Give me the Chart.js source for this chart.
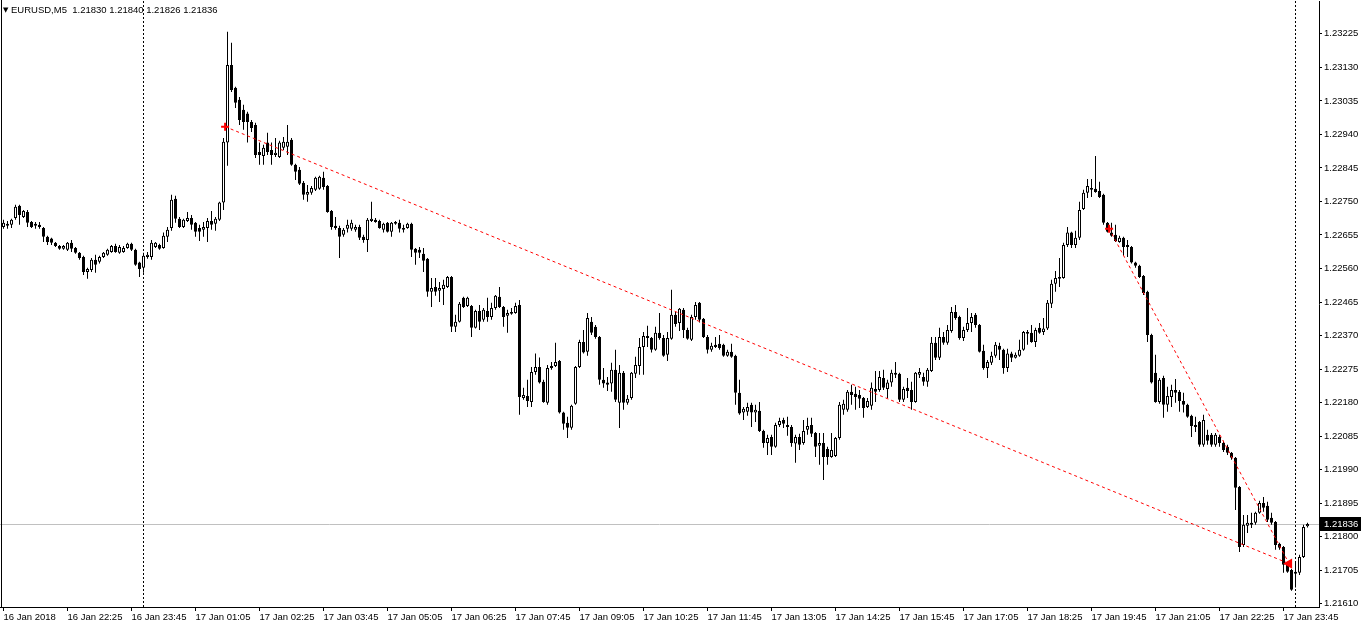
<!DOCTYPE html>
<html>
<head>
<meta charset="utf-8">
<title>EURUSD,M5</title>
<script src="https://cdn.jsdelivr.net/npm/chart.js@4.4.1/dist/chart.umd.min.js"></script>
<style>
  html, body { margin: 0; padding: 0; background: #fff; overflow: hidden; }
  canvas { display: block; }
</style>
</head>
<body>
<canvas id="chart" width="1362" height="629"></canvas>
<script>
// EURUSD M5 bars, 16 Jan 21:05 .. 18 Jan 00:15 (one entry per bar)
const symbol = 'EURUSD,M5';

const open = [
  1.22678, 1.22687, 1.22684, 1.22703, 1.22738, 1.22706, 1.22720, 1.22692, 1.22687, 1.22684,
  1.22675, 1.22650, 1.22645, 1.22633, 1.22624, 1.22616, 1.22613, 1.22633, 1.22618, 1.22605,
  1.22593, 1.22550, 1.22556, 1.22585, 1.22579, 1.22593, 1.22599, 1.22607, 1.22624, 1.22605,
  1.22607, 1.22618, 1.22630, 1.22613, 1.22577, 1.22562, 1.22593, 1.22593, 1.22621, 1.22627,
  1.22618, 1.22650, 1.22675, 1.22758, 1.22701, 1.22678, 1.22695, 1.22703, 1.22690, 1.22675,
  1.22670, 1.22675, 1.22695, 1.22687, 1.22698, 1.22747, 1.22917, 1.23137, 1.23072, 1.23038,
  1.23010, 1.22999, 1.22975, 1.22967, 1.22890, 1.22879, 1.22917, 1.22896, 1.22882, 1.22876,
  1.22902, 1.22905, 1.22925, 1.22854, 1.22840, 1.22803, 1.22769, 1.22775, 1.22783, 1.22786,
  1.22817, 1.22794, 1.22723, 1.22681, 1.22675, 1.22656, 1.22673, 1.22673, 1.22670, 1.22678,
  1.22650, 1.22641, 1.22695, 1.22698, 1.22695, 1.22670, 1.22690, 1.22664, 1.22687, 1.22690,
  1.22670, 1.22675, 1.22687, 1.22616, 1.22613, 1.22602, 1.22588, 1.22494, 1.22508, 1.22497,
  1.22502, 1.22508, 1.22536, 1.22395, 1.22409, 1.22477, 1.22454, 1.22454, 1.22392, 1.22440,
  1.22415, 1.22440, 1.22423, 1.22448, 1.22480, 1.22451, 1.22426, 1.22437, 1.22434, 1.22457,
  1.22193, 1.22199, 1.22182, 1.22267, 1.22281, 1.22239, 1.22180, 1.22278, 1.22284, 1.22298,
  1.22152, 1.22123, 1.22109, 1.22177, 1.22281, 1.22352, 1.22324, 1.22409, 1.22395, 1.22366,
  1.22245, 1.22237, 1.22234, 1.22273, 1.22180, 1.22265, 1.22180, 1.22193, 1.22262, 1.22284,
  1.22338, 1.22369, 1.22363, 1.22330, 1.22378, 1.22363, 1.22316, 1.22361, 1.22429, 1.22406,
  1.22443, 1.22386, 1.22358, 1.22423, 1.22463, 1.22418, 1.22366, 1.22330, 1.22344, 1.22347,
  1.22344, 1.22313, 1.22324, 1.22313, 1.22208, 1.22152, 1.22154, 1.22174, 1.22152, 1.22157,
  1.22100, 1.22066, 1.22083, 1.22055, 1.22117, 1.22131, 1.22111, 1.22111, 1.22064, 1.22083,
  1.22066, 1.22103, 1.22117, 1.22094, 1.22058, 1.22066, 1.22049, 1.22026, 1.22029, 1.22080,
  1.22160, 1.22160, 1.22211, 1.22205, 1.22202, 1.22193, 1.22168, 1.22171, 1.22219, 1.22216,
  1.22250, 1.22219, 1.22237, 1.22259, 1.22262, 1.22188, 1.22222, 1.22216, 1.22182, 1.22259,
  1.22253, 1.22239, 1.22270, 1.22350, 1.22307, 1.22366, 1.22350, 1.22383, 1.22437, 1.22423,
  1.22363, 1.22386, 1.22406, 1.22429, 1.22400, 1.22327, 1.22278, 1.22293, 1.22313, 1.22341,
  1.22330, 1.22278, 1.22319, 1.22307, 1.22313, 1.22330, 1.22380, 1.22378, 1.22352, 1.22392,
  1.22380, 1.22390, 1.22460, 1.22517, 1.22536, 1.22533, 1.22627, 1.22662, 1.22627, 1.22647,
  1.22729, 1.22775, 1.22783, 1.22786, 1.22780, 1.22769, 1.22690, 1.22662, 1.22656, 1.22635,
  1.22647, 1.22621, 1.22621, 1.22577, 1.22568, 1.22539, 1.22494, 1.22372, 1.22265, 1.22182,
  1.22250, 1.22174, 1.22196, 1.22216, 1.22211, 1.22185, 1.22174, 1.22143, 1.22111, 1.22125,
  1.22061, 1.22089, 1.22089, 1.22061, 1.22083, 1.22066, 1.22055, 1.22038, 1.22024, 1.21941,
  1.21777, 1.21831, 1.21834, 1.21840, 1.21868, 1.21896, 1.21888, 1.21854, 1.21842, 1.21780,
  1.21771, 1.21721, 1.21706, 1.21701, 1.21698, 1.21743, 1.21830
];

const high = [
  1.22698, 1.22695, 1.22701, 1.22741, 1.22741, 1.22726, 1.22726, 1.22695, 1.22692, 1.22692,
  1.22678, 1.22653, 1.22647, 1.22635, 1.22627, 1.22627, 1.22635, 1.22641, 1.22621, 1.22607,
  1.22596, 1.22562, 1.22590, 1.22599, 1.22596, 1.22607, 1.22616, 1.22627, 1.22630, 1.22627,
  1.22624, 1.22633, 1.22633, 1.22616, 1.22579, 1.22605, 1.22607, 1.22641, 1.22635, 1.22630,
  1.22662, 1.22678, 1.22769, 1.22766, 1.22706, 1.22701, 1.22720, 1.22712, 1.22692, 1.22684,
  1.22692, 1.22703, 1.22723, 1.22706, 1.22749, 1.22930, 1.23231, 1.23200, 1.23075, 1.23046,
  1.23024, 1.23004, 1.22981, 1.22973, 1.22917, 1.22911, 1.22945, 1.22917, 1.22930, 1.22922,
  1.22933, 1.22967, 1.22930, 1.22857, 1.22848, 1.22808, 1.22797, 1.22794, 1.22820, 1.22823,
  1.22834, 1.22797, 1.22726, 1.22706, 1.22681, 1.22675, 1.22698, 1.22698, 1.22684, 1.22684,
  1.22656, 1.22703, 1.22749, 1.22703, 1.22698, 1.22690, 1.22692, 1.22692, 1.22695, 1.22698,
  1.22684, 1.22690, 1.22690, 1.22618, 1.22621, 1.22618, 1.22590, 1.22533, 1.22533, 1.22522,
  1.22528, 1.22539, 1.22539, 1.22429, 1.22465, 1.22480, 1.22480, 1.22457, 1.22443, 1.22457,
  1.22448, 1.22477, 1.22463, 1.22485, 1.22508, 1.22454, 1.22443, 1.22448, 1.22463, 1.22471,
  1.22222, 1.22245, 1.22281, 1.22319, 1.22308, 1.22245, 1.22287, 1.22295, 1.22350, 1.22301,
  1.22154, 1.22140, 1.22174, 1.22284, 1.22358, 1.22386, 1.22434, 1.22423, 1.22400, 1.22369,
  1.22278, 1.22253, 1.22293, 1.22330, 1.22287, 1.22270, 1.22202, 1.22267, 1.22310, 1.22363,
  1.22380, 1.22398, 1.22366, 1.22395, 1.22434, 1.22372, 1.22380, 1.22500, 1.22437, 1.22448,
  1.22448, 1.22392, 1.22429, 1.22465, 1.22465, 1.22420, 1.22372, 1.22350, 1.22366, 1.22372,
  1.22347, 1.22330, 1.22347, 1.22316, 1.22245, 1.22168, 1.22180, 1.22180, 1.22174, 1.22182,
  1.22103, 1.22089, 1.22089, 1.22123, 1.22137, 1.22137, 1.22140, 1.22117, 1.22089, 1.22092,
  1.22131, 1.22137, 1.22137, 1.22097, 1.22094, 1.22094, 1.22055, 1.22094, 1.22083, 1.22182,
  1.22188, 1.22216, 1.22231, 1.22225, 1.22216, 1.22196, 1.22193, 1.22237, 1.22270, 1.22270,
  1.22273, 1.22245, 1.22273, 1.22295, 1.22265, 1.22225, 1.22250, 1.22239, 1.22267, 1.22278,
  1.22265, 1.22278, 1.22366, 1.22366, 1.22392, 1.22380, 1.22400, 1.22451, 1.22457, 1.22426,
  1.22395, 1.22448, 1.22434, 1.22434, 1.22403, 1.22344, 1.22301, 1.22324, 1.22352, 1.22350,
  1.22333, 1.22333, 1.22324, 1.22322, 1.22358, 1.22383, 1.22386, 1.22400, 1.22392, 1.22406,
  1.22420, 1.22471, 1.22528, 1.22553, 1.22590, 1.22633, 1.22678, 1.22664, 1.22667, 1.22749,
  1.22783, 1.22814, 1.22814, 1.22879, 1.22806, 1.22772, 1.22692, 1.22690, 1.22684, 1.22653,
  1.22650, 1.22641, 1.22624, 1.22579, 1.22571, 1.22542, 1.22497, 1.22375, 1.22316, 1.22250,
  1.22256, 1.22225, 1.22231, 1.22247, 1.22216, 1.22208, 1.22177, 1.22146, 1.22140, 1.22128,
  1.22146, 1.22103, 1.22094, 1.22094, 1.22089, 1.22072, 1.22061, 1.22040, 1.22026, 1.21944,
  1.21862, 1.21862, 1.21868, 1.21871, 1.21902, 1.21913, 1.21899, 1.21868, 1.21845, 1.21783,
  1.21774, 1.21726, 1.21709, 1.21729, 1.21749, 1.21834, 1.21840
];

const low = [
  1.22673, 1.22673, 1.22675, 1.22698, 1.22684, 1.22703, 1.22678, 1.22675, 1.22673, 1.22673,
  1.22635, 1.22627, 1.22627, 1.22621, 1.22613, 1.22613, 1.22610, 1.22607, 1.22602, 1.22585,
  1.22542, 1.22531, 1.22550, 1.22548, 1.22574, 1.22590, 1.22596, 1.22605, 1.22605, 1.22602,
  1.22605, 1.22616, 1.22610, 1.22568, 1.22536, 1.22548, 1.22588, 1.22585, 1.22618, 1.22613,
  1.22616, 1.22635, 1.22667, 1.22690, 1.22675, 1.22675, 1.22692, 1.22670, 1.22650, 1.22638,
  1.22650, 1.22635, 1.22670, 1.22667, 1.22695, 1.22726, 1.22851, 1.23060, 1.23015, 1.22967,
  1.22953, 1.22917, 1.22947, 1.22873, 1.22854, 1.22854, 1.22882, 1.22854, 1.22876, 1.22873,
  1.22896, 1.22882, 1.22851, 1.22811, 1.22797, 1.22755, 1.22749, 1.22769, 1.22780, 1.22783,
  1.22783, 1.22718, 1.22670, 1.22670, 1.22590, 1.22650, 1.22662, 1.22667, 1.22664, 1.22641,
  1.22633, 1.22607, 1.22692, 1.22690, 1.22673, 1.22662, 1.22662, 1.22650, 1.22684, 1.22662,
  1.22662, 1.22673, 1.22593, 1.22571, 1.22590, 1.22550, 1.22480, 1.22451, 1.22483, 1.22465,
  1.22457, 1.22505, 1.22380, 1.22380, 1.22407, 1.22448, 1.22451, 1.22366, 1.22390, 1.22386,
  1.22409, 1.22409, 1.22415, 1.22443, 1.22448, 1.22395, 1.22378, 1.22429, 1.22432, 1.22146,
  1.22188, 1.22168, 1.22168, 1.22259, 1.22234, 1.22180, 1.22174, 1.22273, 1.22281, 1.22149,
  1.22103, 1.22080, 1.22103, 1.22174, 1.22278, 1.22319, 1.22313, 1.22372, 1.22361, 1.22231,
  1.22222, 1.22213, 1.22211, 1.22182, 1.22108, 1.22160, 1.22174, 1.22188, 1.22250, 1.22259,
  1.22259, 1.22338, 1.22322, 1.22327, 1.22358, 1.22310, 1.22298, 1.22358, 1.22395, 1.22383,
  1.22363, 1.22358, 1.22355, 1.22415, 1.22407, 1.22363, 1.22319, 1.22324, 1.22335, 1.22330,
  1.22310, 1.22310, 1.22307, 1.22174, 1.22146, 1.22131, 1.22143, 1.22111, 1.22125, 1.22097,
  1.22052, 1.22032, 1.22032, 1.22052, 1.22111, 1.22108, 1.22086, 1.22055, 1.22010, 1.22046,
  1.22061, 1.22089, 1.22083, 1.22026, 1.22004, 1.21961, 1.22004, 1.22024, 1.22026, 1.22075,
  1.22146, 1.22154, 1.22174, 1.22160, 1.22165, 1.22137, 1.22165, 1.22160, 1.22182, 1.22211,
  1.22216, 1.22193, 1.22225, 1.22250, 1.22182, 1.22182, 1.22193, 1.22160, 1.22180, 1.22250,
  1.22228, 1.22225, 1.22267, 1.22301, 1.22301, 1.22344, 1.22344, 1.22378, 1.22415, 1.22358,
  1.22355, 1.22380, 1.22380, 1.22392, 1.22322, 1.22273, 1.22250, 1.22287, 1.22307, 1.22301,
  1.22262, 1.22267, 1.22295, 1.22305, 1.22310, 1.22327, 1.22344, 1.22350, 1.22338, 1.22375,
  1.22372, 1.22386, 1.22448, 1.22494, 1.22508, 1.22531, 1.22621, 1.22618, 1.22618, 1.22641,
  1.22726, 1.22760, 1.22763, 1.22775, 1.22760, 1.22684, 1.22662, 1.22650, 1.22635, 1.22633,
  1.22596, 1.22593, 1.22574, 1.22562, 1.22533, 1.22485, 1.22352, 1.22234, 1.22180, 1.22177,
  1.22137, 1.22154, 1.22168, 1.22180, 1.22154, 1.22152, 1.22137, 1.22083, 1.22097, 1.22055,
  1.22055, 1.22061, 1.22055, 1.22055, 1.22055, 1.22040, 1.22032, 1.22018, 1.21876, 1.21757,
  1.21771, 1.21811, 1.21825, 1.21834, 1.21865, 1.21871, 1.21842, 1.21834, 1.21763, 1.21763,
  1.21698, 1.21698, 1.21647, 1.21656, 1.21692, 1.21740, 1.21826
];

const close = [
  1.22690, 1.22681, 1.22698, 1.22735, 1.22712, 1.22723, 1.22690, 1.22678, 1.22681, 1.22678,
  1.22650, 1.22635, 1.22633, 1.22624, 1.22616, 1.22624, 1.22633, 1.22616, 1.22605, 1.22590,
  1.22550, 1.22559, 1.22585, 1.22571, 1.22593, 1.22605, 1.22613, 1.22624, 1.22607, 1.22621,
  1.22618, 1.22630, 1.22613, 1.22571, 1.22559, 1.22596, 1.22599, 1.22633, 1.22633, 1.22616,
  1.22653, 1.22670, 1.22755, 1.22701, 1.22678, 1.22698, 1.22703, 1.22684, 1.22664, 1.22664,
  1.22678, 1.22695, 1.22684, 1.22701, 1.22747, 1.22919, 1.23137, 1.23066, 1.23030, 1.22981,
  1.22975, 1.22975, 1.22958, 1.22882, 1.22882, 1.22902, 1.22890, 1.22882, 1.22888, 1.22917,
  1.22919, 1.22919, 1.22854, 1.22834, 1.22800, 1.22769, 1.22777, 1.22788, 1.22817, 1.22820,
  1.22791, 1.22720, 1.22678, 1.22675, 1.22650, 1.22670, 1.22684, 1.22690, 1.22678, 1.22647,
  1.22641, 1.22698, 1.22701, 1.22692, 1.22675, 1.22687, 1.22664, 1.22690, 1.22692, 1.22673,
  1.22675, 1.22687, 1.22613, 1.22605, 1.22605, 1.22582, 1.22494, 1.22505, 1.22494, 1.22505,
  1.22514, 1.22536, 1.22395, 1.22409, 1.22460, 1.22451, 1.22477, 1.22392, 1.22440, 1.22409,
  1.22443, 1.22423, 1.22448, 1.22483, 1.22451, 1.22423, 1.22434, 1.22432, 1.22454, 1.22196,
  1.22202, 1.22185, 1.22267, 1.22281, 1.22237, 1.22182, 1.22278, 1.22284, 1.22295, 1.22152,
  1.22120, 1.22109, 1.22171, 1.22281, 1.22352, 1.22322, 1.22420, 1.22378, 1.22366, 1.22245,
  1.22234, 1.22231, 1.22273, 1.22188, 1.22265, 1.22180, 1.22191, 1.22265, 1.22287, 1.22338,
  1.22369, 1.22363, 1.22330, 1.22378, 1.22363, 1.22313, 1.22363, 1.22429, 1.22403, 1.22446,
  1.22386, 1.22361, 1.22423, 1.22457, 1.22415, 1.22366, 1.22330, 1.22341, 1.22338, 1.22335,
  1.22313, 1.22324, 1.22310, 1.22208, 1.22149, 1.22163, 1.22168, 1.22152, 1.22160, 1.22100,
  1.22066, 1.22080, 1.22055, 1.22117, 1.22128, 1.22120, 1.22117, 1.22066, 1.22083, 1.22061,
  1.22100, 1.22114, 1.22092, 1.22055, 1.22066, 1.22026, 1.22026, 1.22046, 1.22080, 1.22174,
  1.22177, 1.22211, 1.22202, 1.22196, 1.22191, 1.22165, 1.22185, 1.22222, 1.22211, 1.22253,
  1.22222, 1.22237, 1.22265, 1.22265, 1.22188, 1.22219, 1.22213, 1.22182, 1.22265, 1.22267,
  1.22239, 1.22273, 1.22350, 1.22307, 1.22366, 1.22350, 1.22386, 1.22437, 1.22420, 1.22363,
  1.22386, 1.22406, 1.22423, 1.22400, 1.22324, 1.22278, 1.22295, 1.22313, 1.22344, 1.22330,
  1.22278, 1.22319, 1.22307, 1.22316, 1.22330, 1.22380, 1.22375, 1.22352, 1.22386, 1.22378,
  1.22390, 1.22463, 1.22517, 1.22533, 1.22531, 1.22627, 1.22662, 1.22627, 1.22647, 1.22726,
  1.22775, 1.22794, 1.22788, 1.22777, 1.22763, 1.22690, 1.22664, 1.22653, 1.22638, 1.22647,
  1.22621, 1.22627, 1.22577, 1.22568, 1.22536, 1.22491, 1.22372, 1.22237, 1.22182, 1.22245,
  1.22174, 1.22199, 1.22216, 1.22208, 1.22185, 1.22174, 1.22140, 1.22114, 1.22117, 1.22061,
  1.22131, 1.22072, 1.22061, 1.22089, 1.22066, 1.22046, 1.22038, 1.22024, 1.21939, 1.21771,
  1.21834, 1.21840, 1.21840, 1.21868, 1.21896, 1.21882, 1.21848, 1.21840, 1.21777, 1.21769,
  1.21721, 1.21701, 1.21650, 1.21695, 1.21743, 1.21828, 1.21836
];

// time axis: a label every 16 bars (80 minutes)
const timeTickBars = [0, 16, 32, 48, 64, 80, 96, 112, 128, 144, 160, 176, 192, 208, 224, 240, 256, 272, 288, 304, 320];
const timeLabels = [
  '16 Jan 2018', '16 Jan 22:25', '16 Jan 23:45', '17 Jan 01:05', '17 Jan 02:25', '17 Jan 03:45',
  '17 Jan 05:05', '17 Jan 06:25', '17 Jan 07:45', '17 Jan 09:05', '17 Jan 10:25', '17 Jan 11:45',
  '17 Jan 13:05', '17 Jan 14:25', '17 Jan 15:45', '17 Jan 17:05', '17 Jan 18:25', '17 Jan 19:45',
  '17 Jan 21:05', '17 Jan 22:25', '17 Jan 23:45'
];

const priceTicks = [
  1.21610, 1.21705, 1.21800, 1.21895, 1.21990, 1.22085, 1.22180, 1.22275, 1.22370,
  1.22465, 1.22560, 1.22655, 1.22750, 1.22845, 1.22940, 1.23035, 1.23130, 1.23225
];

// bars where a new day starts (00:00)
const daySeparators = [35, 323];

// red trend lines (bar position, price)
const trendA = [{ x: 55.4, y: 1.22962 }, { x: 321.4, y: 1.21724 }];
const trendB = [{ x: 276.4, y: 1.22673 }, { x: 321.4, y: 1.21724 }];

const FAMILY = '"Liberation Sans", Arial, sans-serif';
const FSIZE = 9.5;
const last = close.length - 1;
const bodyColors = close.map((c, i) => (c >= open[i] ? '#ffffff' : '#000000'));

const mt4Overlay = {
  id: 'mt4Overlay',
  beforeDatasetsDraw(chart) {
    const { ctx, chartArea: a, scales: { x, y } } = chart;
    ctx.save();
    // bid line
    const by = Math.round(y.getPixelForValue(close[last])) + 0.5;
    ctx.strokeStyle = '#c0c0c0';
    ctx.lineWidth = 1;
    ctx.beginPath();
    ctx.moveTo(a.left, by);
    ctx.lineTo(a.right, by);
    ctx.stroke();
    // day separators
    ctx.strokeStyle = '#000';
    ctx.setLineDash([2, 2]);
    daySeparators.forEach(b => {
      const px = Math.floor(x.getPixelForValue(b)) + 0.5;
      ctx.beginPath();
      ctx.moveTo(px, a.top);
      ctx.lineTo(px, a.bottom);
      ctx.stroke();
    });
    ctx.restore();
  },
  afterDraw(chart) {
    const { ctx, chartArea: a, scales: { y } } = chart;
    ctx.save();
    // left frame line
    ctx.fillStyle = '#000';
    ctx.fillRect(1, 0, 1, a.bottom);
    // current price box
    const by = Math.round(y.getPixelForValue(close[last]));
    ctx.fillRect(a.right + 1, by - 7, 41, 14);
    ctx.fillStyle = '#fff';
    ctx.font = FSIZE + 'px ' + FAMILY;
    ctx.textBaseline = 'middle';
    ctx.textAlign = 'left';
    ctx.fillText(close[last].toFixed(5), a.right + 5, by + 0.5);
    // header
    ctx.fillStyle = '#000';
    ctx.font = '7px "DejaVu Sans", sans-serif';
    ctx.fillText('\u25BC', 3, 10);
    ctx.font = FSIZE + 'px ' + FAMILY;
    const head = symbol + '  ' + [open[last], high[last], low[last], close[last]].map(v => v.toFixed(5)).join(' ');
    ctx.fillText(head, 11, 10.5);
    ctx.restore();
  }
};

const pointsA = { pointStyle: ['cross', 'triangle'], pointRotation: [0, 270], pointRadius: [4, 4] };
const pointsB = { pointStyle: ['cross', 'cross'], pointRotation: [0, 0], pointRadius: [4, 0] };

new Chart(document.getElementById('chart'), {
  type: 'bar',
  data: {
    datasets: [
      {
        type: 'line', label: 'trend A', data: trendA, order: 0,
        borderColor: '#ff0000', borderWidth: 1, borderDash: [3, 3],
        pointBackgroundColor: '#ff0000', pointBorderColor: '#ff0000', pointBorderWidth: 2,
        ...pointsA
      },
      {
        type: 'line', label: 'trend B', data: trendB, order: 0,
        borderColor: '#ff0000', borderWidth: 1, borderDash: [3, 3],
        pointBackgroundColor: '#ff0000', pointBorderColor: '#ff0000', pointBorderWidth: 2,
        ...pointsB
      },
      {
        label: 'body', order: 1,
        data: open.map((o, i) => ({ x: i, y: [o, close[i]] })),
        backgroundColor: bodyColors, borderColor: '#000', borderWidth: 1,
        borderSkipped: false, barThickness: 3, grouped: false, inflateAmount: 0
      },
      {
        label: 'wick', order: 2,
        data: low.map((l, i) => ({ x: i, y: [l, high[i]] })),
        backgroundColor: '#000', borderWidth: 0,
        barThickness: 1, grouped: false, inflateAmount: 0
      }
    ]
  },
  options: {
    responsive: false,
    animation: false,
    layout: { autoPadding: false, padding: { top: 1, left: 0, right: 0, bottom: 0 } },
    plugins: { legend: { display: false }, tooltip: { enabled: false } },
    scales: {
      x: {
        type: 'linear', min: -0.875, max: 328.875, offset: false,
        grid: { drawOnChartArea: false, drawTicks: true, tickLength: 4, color: '#000', offset: false },
        border: { display: true, color: '#000' },
        ticks: {
          autoSkip: false, maxRotation: 0, minRotation: 0, align: 'start', padding: 1,
          color: '#000', font: { family: FAMILY, size: FSIZE },
          callback: (v, i) => timeLabels[i]
        },
        afterBuildTicks: s => { s.ticks = timeTickBars.map(v => ({ value: v })); },
        afterFit: s => { s.height = 22; s.paddingLeft = 0; s.paddingRight = 0; }
      },
      y: {
        position: 'right', min: 1.21601, max: 1.23318, beginAtZero: false,
        grid: { drawOnChartArea: false, drawTicks: true, tickLength: 3, color: '#000' },
        border: { display: true, color: '#000' },
        ticks: {
          autoSkip: false, padding: 2, color: '#000', font: { family: FAMILY, size: FSIZE },
          callback: v => v.toFixed(5)
        },
        afterBuildTicks: s => { s.ticks = priceTicks.map(v => ({ value: v })); },
        afterFit: s => { s.width = 43; s.paddingTop = 0; s.paddingBottom = 0; }
      }
    }
  },
  plugins: [mt4Overlay]
});
</script>
</body>
</html>
